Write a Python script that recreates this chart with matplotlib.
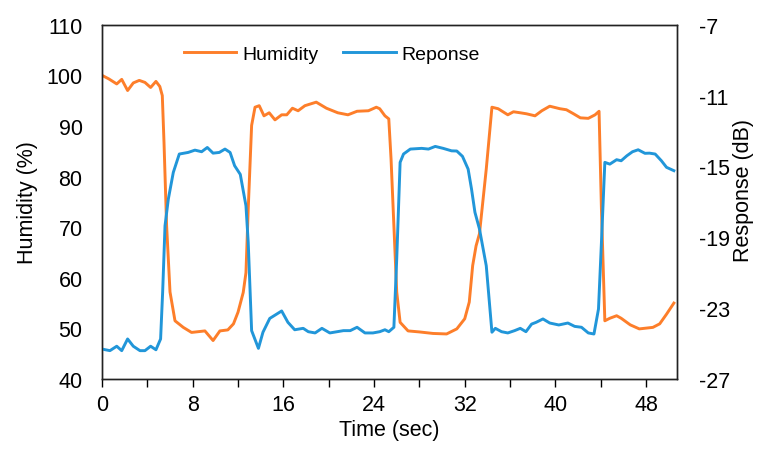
#!/usr/bin/env python3
"""Humidity step cycles against the sensor response (dB), twin y axes."""

import matplotlib

matplotlib.use("Agg")
import matplotlib.pyplot as plt
from matplotlib import font_manager
from matplotlib.ticker import MultipleLocator

# humidity trace (%)
t_hum = [0.0, 0.6, 1.3, 1.74, 2.26, 2.76, 3.29, 3.79, 4.29, 4.76, 5.1, 5.32,
         5.47, 5.7, 6.0, 6.44, 7.17, 7.9, 9.08, 9.8, 10.4, 11.1, 11.6, 12.0,
         12.46, 12.7, 12.9, 13.2, 13.5, 13.87, 14.29, 14.75, 15.26, 15.85,
         16.3, 16.8, 17.3, 17.9, 18.9, 19.8, 20.8, 21.7, 22.5, 23.5, 24.2,
         24.5, 24.96, 25.3, 25.5, 25.75, 26.0, 26.3, 27.0, 28.0, 29.2, 30.4,
         31.3, 32.0, 32.4, 32.7, 33.0, 33.3, 33.9, 34.4, 34.95, 35.8, 36.3,
         36.9, 37.45, 38.2, 38.8, 39.5, 40.4, 40.97, 41.6, 42.2, 42.9, 43.5,
         43.85, 44.06, 44.36, 44.8, 45.4, 45.8, 46.6, 47.4, 48.6, 49.2, 49.8,
         50.45]
humidity = [100.0, 99.3, 98.3, 99.2, 97.0, 98.5, 99.0, 98.6, 97.6, 98.8, 97.8,
            96.0, 86.8, 70.3, 57.2, 51.5, 50.2, 49.2, 49.5, 47.6, 49.5, 49.7,
            50.9, 53.2, 57.1, 61.0, 73.6, 90.1, 93.7, 94.0, 92.0, 92.6, 91.2,
            92.2, 92.2, 93.5, 93.0, 94.0, 94.7, 93.5, 92.6, 92.2, 92.9, 93.0,
            93.7, 93.4, 92.0, 91.4, 83.5, 70.3, 57.2, 51.2, 49.5, 49.3, 49.0,
            48.9, 49.9, 51.9, 55.2, 62.4, 66.3, 68.7, 81.5, 93.7, 93.4, 92.2,
            92.8, 92.6, 92.4, 92.0, 93.0, 93.9, 93.4, 93.2, 92.4, 91.6, 91.5,
            92.2, 92.9, 73.6, 51.5, 52.0, 52.5, 52.0, 50.7, 49.9, 50.2, 50.9,
            52.8, 55.0]

# sensor response (dB)
t_resp = [0.0, 0.7, 1.3, 1.74, 2.26, 2.76, 3.35, 3.79, 4.29, 4.76, 5.17, 5.35,
          5.56, 5.85, 6.29, 6.82, 7.6, 8.2, 8.79, 9.29, 9.8, 10.35, 10.85,
          11.3, 11.7, 12.2, 12.7, 12.9, 13.2, 13.8, 14.2, 14.8, 15.85, 16.4,
          17.0, 17.75, 18.2, 18.8, 19.4, 20.1, 21.3, 21.9, 22.5, 23.2, 23.9,
          24.5, 24.96, 25.3, 25.75, 26.0, 26.3, 26.6, 27.2, 28.2, 28.8, 29.4,
          30.1, 30.84, 31.3, 31.8, 32.3, 32.6, 32.9, 33.3, 33.9, 34.4, 34.7,
          35.25, 35.8, 36.4, 36.9, 37.4, 37.9, 38.3, 38.9, 39.5, 40.3, 41.1,
          41.7, 42.3, 42.9, 43.4, 43.8, 44.06, 44.36, 44.8, 45.4, 45.8, 46.3,
          46.8, 47.3, 47.9, 48.3, 48.8, 49.35, 49.8, 50.45]
response = [-25.31, -25.40, -25.15, -25.40, -24.74, -25.15, -25.40, -25.40,
            -25.15, -25.35, -24.74, -22.11, -18.35, -16.85, -15.34, -14.30,
            -14.21, -14.08, -14.17, -13.93, -14.25, -14.21, -14.02, -14.21,
            -14.96, -15.45, -17.22, -19.29, -24.27, -25.27, -24.36, -23.58,
            -23.16, -23.80, -24.22, -24.14, -24.33, -24.40, -24.14, -24.40,
            -24.27, -24.27, -24.08, -24.40, -24.40, -24.33, -24.22, -24.33,
            -24.08, -20.23, -14.77, -14.30, -14.02, -13.98, -14.02, -13.87,
            -13.98, -14.12, -14.13, -14.43, -15.15, -16.28, -17.59, -18.53,
            -20.61, -24.36, -24.14, -24.33, -24.40, -24.27, -24.14, -24.33,
            -23.90, -23.80, -23.61, -23.84, -23.95, -23.84, -24.03, -24.08,
            -24.40, -24.46, -23.05, -19.29, -14.77, -14.87, -14.62, -14.68,
            -14.40, -14.17, -14.06, -14.26, -14.25, -14.30, -14.68, -15.05,
            -15.24]

# right-axis ticks start at the bottom of the range, every 4 dB
resp_ticks = [-27, -23, -19, -15, -11, -7]

ORANGE = "#FD7E2A"
BLUE = "#2196D9"
LABEL_FONT = ["Liberation Sans", "DejaVu Sans"]


def has_font(name: str) -> bool:
    try:
        font_manager.findfont(name, fallback_to_default=False)
        return True
    except ValueError:
        return False


# a narrow face suits the tick numbers; plain Liberation Sans otherwise
NARROW = has_font("Liberation Sans Narrow")
TICK_FONT = ["Liberation Sans Narrow"] if NARROW else LABEL_FONT
TICK_SIZE = 16.5 if NARROW else 15.5

plt.rcParams["axes.unicode_minus"] = False

fig = plt.figure(figsize=(7.6, 4.52), dpi=100)
ax = fig.add_axes([0.1342, 0.1593, 0.7562, 0.7838])
ax2 = ax.twinx()

(l_hum,) = ax.plot(t_hum, humidity, color=ORANGE, lw=2.1, label="Humidity")
(l_resp,) = ax2.plot(t_resp, response, color=BLUE, lw=2.1, label="Reponse")

ax.set_xlim(0, 50.7)
ax.set_ylim(40, 110)
ax2.set_ylim(-27, -7)
ax.xaxis.set_major_locator(MultipleLocator(8))
ax.xaxis.set_minor_locator(MultipleLocator(4))
ax.yaxis.set_major_locator(MultipleLocator(10))
ax2.set_yticks(resp_ticks)

ax.tick_params(axis="x", which="both", direction="out", length=6, width=1,
               pad=5, labelsize=TICK_SIZE)
ax.tick_params(axis="y", length=0, pad=14, labelsize=TICK_SIZE)
ax2.tick_params(axis="y", length=0, pad=16, labelsize=TICK_SIZE)
for lab in ax.get_xticklabels() + ax.get_yticklabels() + ax2.get_yticklabels():
    lab.set_family(TICK_FONT)

for a in (ax, ax2):
    for sp in a.spines.values():
        sp.set_color("#222222")
        sp.set_linewidth(1.0)

ax.set_xlabel("Time (sec)", fontsize=15.5, family=LABEL_FONT)
ax.set_ylabel("Humidity (%)", fontsize=15.5, family=LABEL_FONT)
ax2.set_ylabel("Response (dB)", fontsize=15.5, family=LABEL_FONT)
ax.xaxis.set_label_coords(0.5, -0.112)
ax.yaxis.set_label_coords(-0.111, 0.5)
ax2.yaxis.set_label_coords(1.098, 0.535)

leg = ax2.legend(handles=[l_hum, l_resp], loc="center",
                 bbox_to_anchor=(0.40, 0.917), ncol=2, frameon=False,
                 handlelength=2.7, handletextpad=0.3, columnspacing=1.3,
                 prop={"family": LABEL_FONT, "size": 14})

fig.savefig("out.png", dpi=100)
